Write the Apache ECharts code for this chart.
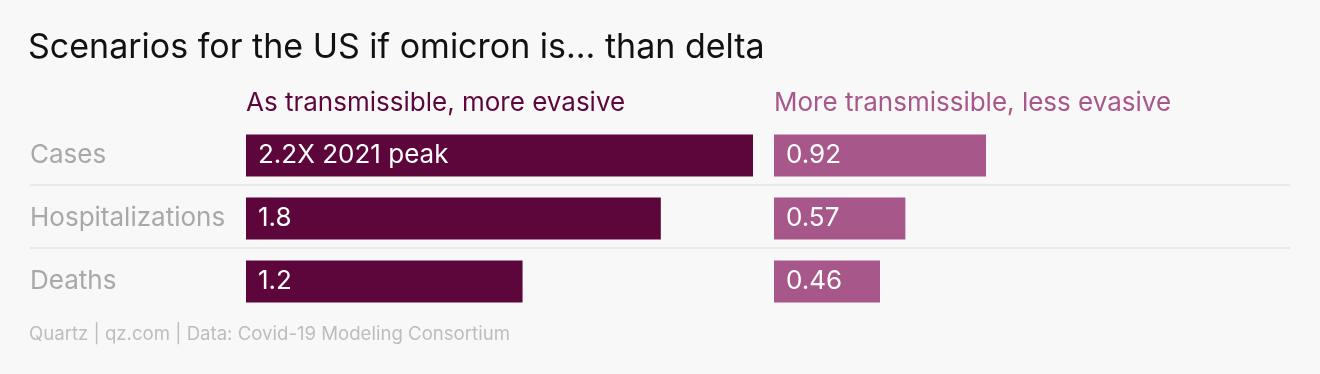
<!DOCTYPE html>
<html><head><meta charset="utf-8">
<script src="https://cdn.jsdelivr.net/npm/echarts@6/dist/echarts.min.js"></script>
<style>html,body{margin:0;padding:0;background:#f8f8f8;}#c{width:1320px;height:374px;}</style>
</head><body><div id="c"></div>
<script>
const categories = ['Cases', 'Hospitalizations', 'Deaths'];
const seriesNames = ['As transmissible, more evasive', 'More transmissible, less evasive'];
const asTransmissible = [2.2, 1.8, 1.2];
const asTransmissibleLabels = ['2.2X 2021 peak', '1.8', '1.2'];
const moreTransmissible = [0.92, 0.57, 0.46];
const moreTransmissibleLabels = ['0.92', '0.57', '0.46'];
const titleText = 'Scenarios for the US if omicron is... than delta';
const footerText = 'Quartz | qz.com | Data: Covid-19 Modeling Consortium';

const FONT = 'Inter';
const C1 = '#5c063c', C2 = '#a8578a';
const chart = echarts.init(document.getElementById('c'), null, {renderer: 'canvas'});
const barTop = 124, bandH = 63;
const catAxis = (gi, showLabels) => ({
  type: 'category', gridIndex: gi, data: categories, inverse: true,
  axisLine: {show: false}, axisTick: {show: false}, splitLine: {show: false},
  axisLabel: showLabels ? {show: true, align: 'left', margin: 216, color: '#a8a8a8', fontSize: 26, fontFamily: FONT} : {show: false}
});
const valAxis = (gi) => ({type: 'value', gridIndex: gi, min: 0, max: 2.2, show: false});
chart.setOption({
  backgroundColor: '#f8f8f8',
  animation: false,
  title: [
    {text: titleText, left: 23, top: 26, textStyle: {fontFamily: FONT, fontSize: 34, fontWeight: 'normal', color: '#111'}},
    {text: seriesNames[0], left: 241, top: 85, textStyle: {fontFamily: FONT, fontSize: 26, fontWeight: 'normal', color: C1}},
    {text: seriesNames[1], left: 769, top: 85, textStyle: {fontFamily: FONT, fontSize: 26, fontWeight: 'normal', color: C2}},
    {text: footerText, left: 24, top: 320, textStyle: {fontFamily: FONT, fontSize: 18.6, fontWeight: 'normal', color: '#bdbdbd'}}
  ],
  grid: [
    {left: 246, top: barTop, width: 507, height: bandH * 3},
    {left: 774, top: barTop, width: 507, height: bandH * 3},
    {left: 30, top: 122, width: 1260, height: bandH * 3}
  ],
  xAxis: [valAxis(0), valAxis(1), {type: 'value', gridIndex: 2, min: 0, max: 1, show: false}],
  yAxis: [catAxis(0, true), catAxis(1, false),
    {type: 'value', gridIndex: 2, min: 0, max: 3, interval: 1, inverse: true,
     axisLine: {show: false}, axisTick: {show: false}, axisLabel: {show: false},
     splitLine: {show: true, showMinLine: false, showMaxLine: false, lineStyle: {color: '#e4e4e4', width: 1.5}}}],
  series: [
    {type: 'bar', name: seriesNames[0], xAxisIndex: 0, yAxisIndex: 0, data: asTransmissible, barWidth: 42,
     itemStyle: {color: C1},
     label: {show: true, position: 'insideLeft', distance: 12, color: '#fff', fontSize: 26, fontFamily: FONT,
       formatter: p => asTransmissibleLabels[p.dataIndex]}},
    {type: 'bar', name: seriesNames[1], xAxisIndex: 1, yAxisIndex: 1, data: moreTransmissible, barWidth: 42,
     itemStyle: {color: C2},
     label: {show: true, position: 'insideLeft', distance: 12, color: '#fff', fontSize: 26, fontFamily: FONT,
       formatter: p => moreTransmissibleLabels[p.dataIndex]}}
  ]
});
</script></body></html>
